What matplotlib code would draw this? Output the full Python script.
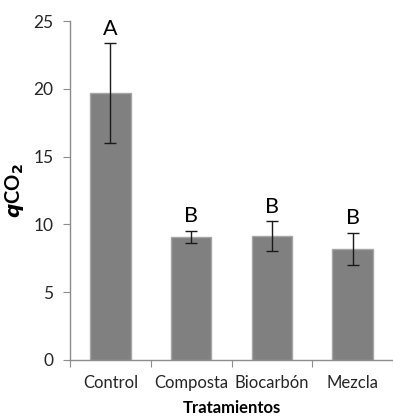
import matplotlib
matplotlib.use("Agg")
import matplotlib.pyplot as plt

categories = ["Control", "Composta", "Biocarbón", "Mezcla"]
values = [19.7, 9.1, 9.15, 8.2]
errors = [3.7, 0.45, 1.1, 1.2]
letters = ["A", "B", "B", "B"]
yticks = [0, 5, 10, 15, 20, 25]

plt.rcParams["font.family"] = ["Lato", "DejaVu Sans"]

W, H = 393, 418
fig = plt.figure(figsize=(W / 100, H / 100), dpi=100)
left, right, bottom, top = 70, 393, 360, 21
ax = fig.add_axes([left / W, 1 - bottom / H, (right - left) / W, (bottom - top) / H])

x = range(len(categories))
ax.bar(x, values, width=0.5, color="#808080", edgecolor="#a6a6a6", linewidth=1.0, zorder=2)
ax.errorbar(x, values, yerr=errors, fmt="none", ecolor="#1a1a1a", elinewidth=1.0,
            capsize=4, capthick=1.0, zorder=3)

for xi, v, e, lab in zip(x, values, errors, letters):
    ax.annotate(lab, (xi, v + e), xytext=(0, 3), textcoords="offset points",
                ha="center", va="bottom", fontsize=15.5, color="#000000")

ax.set_ylim(0, 25)
ax.set_xlim(-0.5, 3.5 - 7 / 82.5)
ax.set_yticks(yticks)
ax.set_yticklabels([str(t) for t in yticks], fontsize=12.5, color="#262626")
ax.set_xticks([-0.5, 0.5, 1.5, 2.5, 3.5])
ax.set_xticklabels([])
ax.set_xticks(list(x), minor=True)
ax.set_xticklabels(categories, minor=True, fontsize=12, color="#262626")
ax.tick_params(axis="x", which="minor", length=0, pad=11)
ax.tick_params(axis="x", which="major", length=5, color="#8c8c8c", direction="out")
ax.tick_params(axis="y", length=5, color="#8c8c8c", direction="out", pad=7)

for s in ["top", "right"]:
    ax.spines[s].set_visible(False)
for s in ["left", "bottom"]:
    ax.spines[s].set_color("#8c8c8c")
    ax.spines[s].set_linewidth(1.0)

ax.set_ylabel(r"$\boldsymbol{q}$CO$_\mathbf{2}$", fontsize=14.5, fontweight="bold", labelpad=5)
ax.set_xlabel("Tratamientos", fontsize=12, fontweight="bold", labelpad=6)

fig.savefig("out.png", dpi=100)
